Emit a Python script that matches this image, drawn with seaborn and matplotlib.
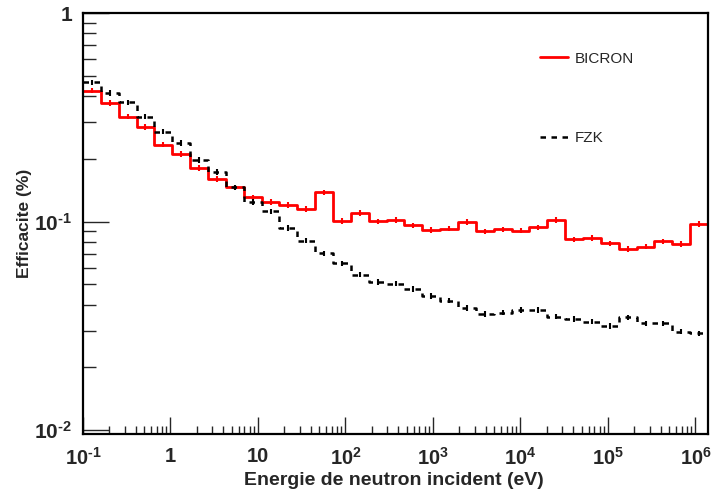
import numpy as np
import pandas as pd
import matplotlib
matplotlib.use("Agg")
import matplotlib.pyplot as plt
import matplotlib.ticker as mticker
import seaborn as sns

# ---- data ----
x_min, x_max = 0.1, 1.39e6
n_bins = 35
bicron = [0.425, 0.370, 0.319, 0.284, 0.234, 0.211, 0.181, 0.160, 0.146, 0.131,
          0.124, 0.120, 0.115, 0.138, 0.101, 0.110, 0.1005, 0.102, 0.096, 0.0914,
          0.0927, 0.0998, 0.090, 0.092, 0.0906, 0.094, 0.102, 0.0824, 0.0836, 0.0788,
          0.0741, 0.076, 0.0806, 0.078, 0.0976]
fzk = [0.465, 0.413, 0.373, 0.319, 0.270, 0.238, 0.198, 0.173, 0.146, 0.124,
       0.112, 0.0934, 0.0812, 0.0706, 0.0632, 0.0558, 0.0514, 0.0505, 0.0475, 0.0441,
       0.0418, 0.0386, 0.0361, 0.0366, 0.0378, 0.0378, 0.0351, 0.0341, 0.0332, 0.0317,
       0.0348, 0.0326, 0.0326, 0.0297, 0.0292]
series_names = ["BICRON", "FZK"]
x_ticks = [1e-1, 1, 10, 1e2, 1e3, 1e4, 1e5, 1e6]
x_tick_labels = ["$\\mathbf{10^{\u20101}}$", "1", "10", r"$\mathbf{10^{2}}$", r"$\mathbf{10^{3}}$",
                 r"$\mathbf{10^{4}}$", r"$\mathbf{10^{5}}$", r"$\mathbf{10^{6}}$"]
y_ticks = [1e-2, 1e-1, 1]
y_tick_labels = ["$\\mathbf{10^{\u20102}}$", "$\\mathbf{10^{\u20101}}$", "1"]

edges = np.logspace(np.log10(x_min), np.log10(x_max), n_bins + 1)
centers = np.sqrt(edges[:-1] * edges[1:])

sns.set_theme(style="ticks")
plt.rcParams["font.family"] = ["Liberation Sans", "DejaVu Sans"]
plt.rcParams["mathtext.fontset"] = "custom"
plt.rcParams["mathtext.rm"] = "Liberation Sans:bold"
plt.rcParams["mathtext.bf"] = "Liberation Sans:bold"
plt.rcParams["mathtext.it"] = "Liberation Sans:bold"

fig = plt.figure(figsize=(7.14, 4.91), dpi=100)
ax = fig.add_axes([83 / 714, 1 - 434 / 491, (708 - 83) / 714, (434 - 13) / 491])

styles = {"BICRON": dict(color="#ff0000", lw=2.0, ls="-"),
          "FZK": dict(color="black", lw=1.8, ls=(0, (2.2, 2.2)))}
for name, vals in zip(series_names, [bicron, fzk]):
    df = pd.DataFrame({"E": edges, "eff": list(vals) + [vals[-1]]})
    st = styles[name]
    sns.lineplot(data=df, x="E", y="eff", ax=ax, drawstyle="steps-post",
                 color=st["color"], lw=st["lw"], ls=st["ls"], label=name,
                 estimator=None, sort=False)
    v = np.array(vals)
    ax.errorbar(centers, v, yerr=0.03 * v, fmt="none", ecolor=st["color"],
                elinewidth=1.5, capsize=0)

ax.set_xscale("log")
ax.set_yscale("log")
ax.set_xlim(x_min, x_max)
ax.set_ylim(0.0096, 1.0)

ax.set_xticks(x_ticks)
ax.set_xticklabels(x_tick_labels)
ax.set_yticks(y_ticks)
ax.set_yticklabels(y_tick_labels)
ax.xaxis.set_minor_locator(mticker.LogLocator(base=10, subs=np.arange(2, 10), numticks=20))
ax.yaxis.set_minor_locator(mticker.LogLocator(base=10, subs=np.arange(2, 10), numticks=20))
ax.xaxis.set_minor_formatter(mticker.NullFormatter())
ax.yaxis.set_minor_formatter(mticker.NullFormatter())

ax.tick_params(axis="x", which="major", direction="in", length=12, width=1, pad=9,
               labelsize=14.5)
ax.tick_params(axis="x", which="minor", direction="in", length=6, width=1)
ax.tick_params(axis="y", which="major", direction="in", length=19, width=1, pad=8,
               labelsize=15)
ax.tick_params(axis="y", which="minor", direction="in", length=9, width=1)
for lab in ax.get_xticklabels() + ax.get_yticklabels():
    lab.set_fontweight("bold")

for sp in ax.spines.values():
    sp.set_linewidth(1.6)
    sp.set_color("black")

ax.set_xlabel("Energie de neutron incident (eV)", fontsize=14, fontweight="bold")
ax.xaxis.set_label_coords(0.4976, -(489 - 434) / 421, transform=ax.transAxes)
ax.xaxis.label.set_va("bottom")
ax.set_ylabel("Efficacite (%)", fontsize=12.5, fontweight="bold")
ax.yaxis.set_label_coords((32 - 83) / 625, 0.5, transform=ax.transAxes)

leg = ax.legend(loc="upper left", bbox_to_anchor=(526 / 714, 1 - 38 / 491),
                bbox_transform=fig.transFigure, frameon=False, fontsize=11,
                handlelength=1.85, handletextpad=0.45, labelspacing=4.3)

fig.savefig("out.png", dpi=100)
